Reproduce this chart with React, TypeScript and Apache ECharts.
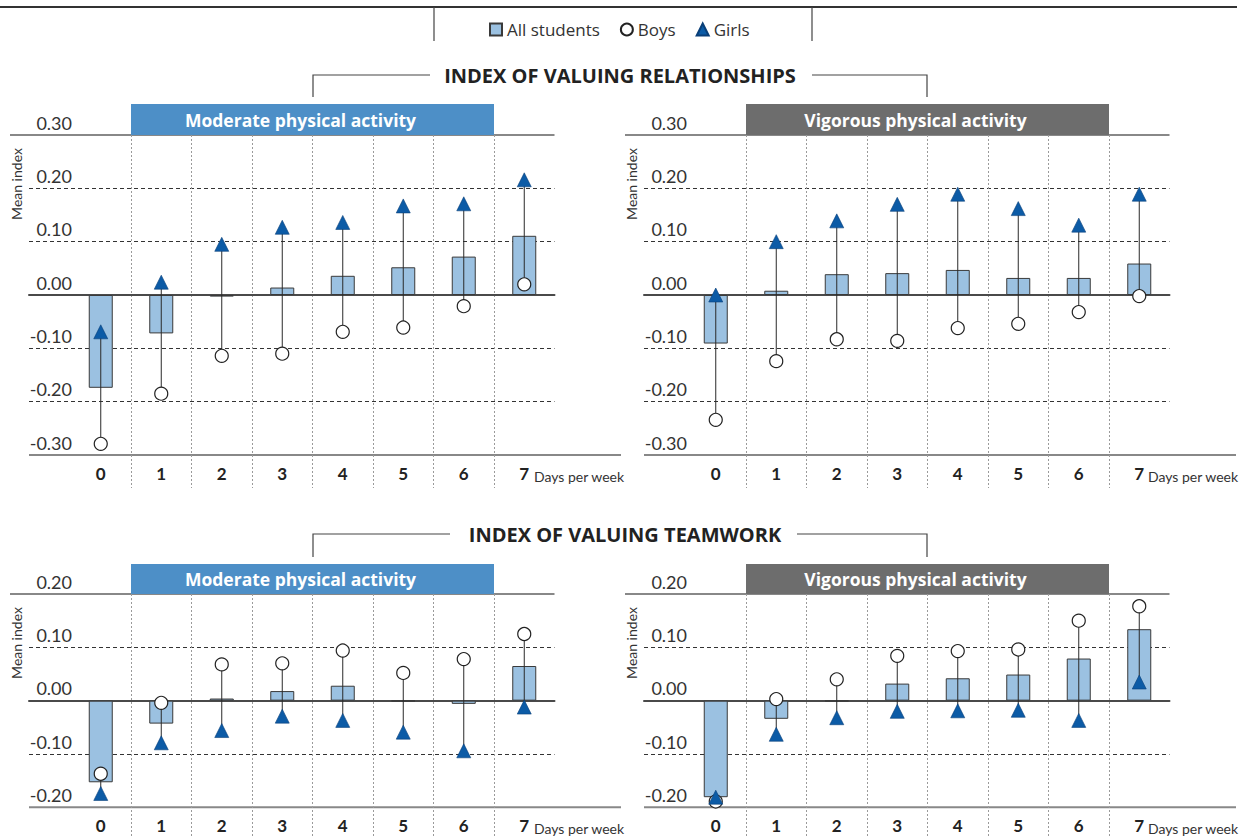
import React, { useEffect, useRef } from 'react';
import * as echarts from 'echarts';

// Days of physical activity per week
const categories = ['0', '1', '2', '3', '4', '5', '6', '7'];

// Index of valuing relationships – moderate physical activity
const relModAll = [-0.174, -0.072, -0.003, 0.014, 0.036, 0.052, 0.072, 0.111];
const relModBoys = [-0.279, -0.185, -0.114, -0.11, -0.069, -0.061, -0.021, 0.02];
const relModGirls = [-0.069, 0.024, 0.095, 0.127, 0.136, 0.167, 0.171, 0.216];

// Index of valuing relationships – vigorous physical activity
const relVigAll = [-0.091, 0.008, 0.039, 0.041, 0.047, 0.032, 0.032, 0.059];
const relVigBoys = [-0.234, -0.124, -0.083, -0.086, -0.062, -0.054, -0.032, -0.002];
const relVigGirls = [0.0, 0.1, 0.139, 0.17, 0.189, 0.162, 0.131, 0.189];

// Index of valuing teamwork – moderate physical activity
const teamModAll = [-0.153, -0.043, 0.004, 0.018, 0.028, -0.001, -0.006, 0.065];
const teamModBoys = [-0.137, -0.004, 0.068, 0.07, 0.094, 0.052, 0.078, 0.125];
const teamModGirls = [-0.174, -0.079, -0.056, -0.029, -0.037, -0.059, -0.094, -0.012];

// Index of valuing teamwork – vigorous physical activity
const teamVigAll = [-0.181, -0.034, -0.001, 0.032, 0.042, 0.049, 0.079, 0.134];
const teamVigBoys = [-0.189, 0.003, 0.04, 0.084, 0.093, 0.096, 0.15, 0.177];
const teamVigGirls = [-0.181, -0.063, -0.032, -0.02, -0.019, -0.018, -0.037, 0.035];

const FONT = 'Lato, "Open Sans", sans-serif';
const WIDE_FONT = '"Open Sans", Lato, sans-serif';
const PX_PER_UNIT = 320 / 0.6;
const BAND = 60.5;
const PLOT_LEFT = 70.5;
const GRID_LINE_LEFT = 29;
const PANEL_DX = 615;

const BAR_FILL = '#9bc1e1';
const BAR_EDGE = '#3a3a3a';
const GIRL_FILL = '#0c5ba6';
const MODERATE = '#4d8fc7';
const VIGOROUS = '#6d6d6d';

type Panel = {
  all: number[];
  boys: number[];
  girls: number[];
  dx: number;
  top: number;
  yMin: number;
  yMax: number;
  sepBottom: number;
  header: string;
  headerColor: string;
  headerTop: number;
  daysX: number;
};

const panels: Panel[] = [
  { all: relModAll, boys: relModBoys, girls: relModGirls, dx: 0, top: 135, yMin: -0.3, yMax: 0.3, sepBottom: 488, header: 'Moderate physical activity', headerColor: MODERATE, headerTop: 104, daysX: 534 },
  { all: relVigAll, boys: relVigBoys, girls: relVigGirls, dx: PANEL_DX, top: 135, yMin: -0.3, yMax: 0.3, sepBottom: 488, header: 'Vigorous physical activity', headerColor: VIGOROUS, headerTop: 104, daysX: 1148 },
  { all: teamModAll, boys: teamModBoys, girls: teamModGirls, dx: 0, top: 594, yMin: -0.2, yMax: 0.2, sepBottom: 837, header: 'Moderate physical activity', headerColor: MODERATE, headerTop: 564, daysX: 534 },
  { all: teamVigAll, boys: teamVigBoys, girls: teamVigGirls, dx: PANEL_DX, top: 594, yMin: -0.2, yMax: 0.2, sepBottom: 837, header: 'Vigorous physical activity', headerColor: VIGOROUS, headerTop: 564, daysX: 1148 },
];

const fmt = (v: number) => (Math.abs(v) < 1e-9 ? 0 : v).toFixed(2);

function text(x: number, y: number, s: string, font: string, fill: string, align = 'left', extra: any = {}) {
  return {
    type: 'text',
    x,
    y,
    silent: true,
    ...extra,
    style: { text: s, font, fill, textAlign: align, textVerticalAlign: 'middle', align, verticalAlign: 'middle' },
  };
}

function hline(x1: number, x2: number, y: number, stroke: string, lineWidth: number) {
  return { type: 'line', silent: true, shape: { x1, y1: y, x2, y2: y }, style: { stroke, lineWidth } };
}

function buildOption() {
  const grid: any[] = [];
  const xAxis: any[] = [];
  const yAxis: any[] = [];
  const series: any[] = [];
  const graphic: any[] = [];

  panels.forEach((p, k) => {
    const hA = (p.yMax - p.yMin) * PX_PER_UNIT;
    const hB = p.sepBottom - p.top;
    const plotLeft = PLOT_LEFT + p.dx;
    const plotRight = plotLeft + BAND * categories.length;
    const a = 2 * k;
    const b = 2 * k + 1;

    // Grid A: horizontal reference lines and y labels
    grid.push({ left: GRID_LINE_LEFT + p.dx, top: p.top, width: plotRight - (GRID_LINE_LEFT + p.dx), height: hA });
    xAxis.push({
      type: 'value', gridIndex: a, min: 0, max: 1,
      axisLine: { show: true, onZero: true, lineStyle: { color: '#4a4a4a', width: 2 } },
      axisTick: { show: false }, axisLabel: { show: false }, splitLine: { show: false },
    });
    yAxis.push({
      type: 'value', gridIndex: a, min: p.yMin, max: p.yMax, interval: 0.1,
      axisLine: { show: false }, axisTick: { show: false },
      axisLabel: {
        inside: true, align: 'right', margin: 43, verticalAlign: 'bottom', lineHeight: 25,
        fontFamily: FONT, fontSize: 18, color: '#333', formatter: fmt,
      },
      splitLine: { show: true, showMinLine: false, showMaxLine: false, lineStyle: { color: '#333', type: [4, 3], width: 1 } },
    });

    // Grid B: categories, separators and data marks
    grid.push({ left: plotLeft, top: p.top, width: plotRight - plotLeft, height: hB });
    xAxis.push({
      type: 'category', gridIndex: b, data: categories, boundaryGap: true, offset: -(hB - hA),
      axisLine: { show: false, onZero: false }, axisTick: { show: false },
      axisLabel: { margin: 10, fontFamily: FONT, fontWeight: 'bold', fontSize: 17, color: '#222' },
      splitLine: { show: true, showMinLine: false, showMaxLine: false, lineStyle: { color: '#9a9a9a', type: [2, 2], width: 1 } },
    });
    yAxis.push({ type: 'value', gridIndex: b, min: p.yMax - hB / PX_PER_UNIT, max: p.yMax, show: false });

    series.push({
      name: 'All students', type: 'bar', xAxisIndex: b, yAxisIndex: b, data: p.all, barWidth: 24, z: 2,
      itemStyle: { color: BAR_FILL, borderColor: BAR_EDGE, borderWidth: 1 },
    });
    series.push({
      type: 'custom', xAxisIndex: b, yAxisIndex: b, z: 3, silent: true,
      data: p.boys.map((v, i) => [i, v, p.girls[i]]),
      encode: { x: 0, y: [1, 2] },
      renderItem: (_params: any, api: any) => {
        const i = api.value(0);
        const p1 = api.coord([i, api.value(1)]);
        const p2 = api.coord([i, api.value(2)]);
        return {
          type: 'line',
          shape: { x1: p1[0], y1: p1[1], x2: p2[0], y2: p2[1] },
          style: { stroke: '#2a2a2a', lineWidth: 1 },
        };
      },
    });
    series.push({
      name: 'Boys', type: 'scatter', xAxisIndex: b, yAxisIndex: b, data: p.boys, z: 4,
      symbol: 'circle', symbolSize: 13,
      itemStyle: { color: '#ffffff', borderColor: '#222', borderWidth: 1.2, opacity: 1 },
    });
    series.push({
      name: 'Girls', type: 'scatter', xAxisIndex: b, yAxisIndex: b, data: p.girls, z: 5,
      symbol: 'triangle', symbolSize: [14, 14],
      itemStyle: { color: GIRL_FILL, borderColor: '#0a3f78', borderWidth: 0.6, opacity: 1 },
    });

    // Panel decorations
    graphic.push(hline(10 + p.dx, plotRight, p.top, '#888', 2));
    graphic.push(hline(GRID_LINE_LEFT + p.dx, 621 + p.dx, p.top + hA, '#888', 2));
    const hx1 = plotLeft + BAND;
    const hx2 = plotLeft + BAND * 7;
    graphic.push({
      type: 'rect', silent: true,
      shape: { x: hx1, y: p.headerTop, width: hx2 - hx1, height: p.top - p.headerTop },
      style: { fill: p.headerColor },
    });
    graphic.push(text((hx1 + hx2) / 2 - 12, (p.headerTop + p.top) / 2, p.header, `bold 17.5px ${WIDE_FONT}`, '#ffffff', 'center'));
    graphic.push(text(16 + p.dx, p.top + 49, 'Mean index', `14px ${FONT}`, '#333', 'center', { rotation: Math.PI / 2 }));
    graphic.push(text(p.daysX, p.top + hA + 21, 'Days per week', `14px ${FONT}`, '#333', 'left'));
  });

  // Top rule and legend frame
  graphic.push(hline(0, 1237, 7, '#333', 2));
  graphic.push({ type: 'line', silent: true, shape: { x1: 434, y1: 7, x2: 434, y2: 41 }, style: { stroke: '#444', lineWidth: 1.2 } });
  graphic.push({ type: 'line', silent: true, shape: { x1: 812, y1: 7, x2: 812, y2: 41 }, style: { stroke: '#444', lineWidth: 1.2 } });

  // Section titles with brackets
  const titles = [
    { s: 'INDEX OF VALUING RELATIONSHIPS', cx: 620, y: 75, l: 430, r: 812, down: 97 },
    { s: 'INDEX OF VALUING TEAMWORK', cx: 625, y: 534, l: 450, r: 797, down: 557 },
  ];
  titles.forEach((t) => {
    graphic.push(text(t.cx, t.y, t.s, `bold 20px ${WIDE_FONT}`, '#222', 'center'));
    graphic.push({ type: 'polyline', silent: true, shape: { points: [[313, t.down], [313, t.y], [t.l, t.y]] }, style: { stroke: '#444', lineWidth: 1.2, fill: null } });
    graphic.push({ type: 'polyline', silent: true, shape: { points: [[t.r, t.y], [927, t.y], [927, t.down]] }, style: { stroke: '#444', lineWidth: 1.2, fill: null } });
  });

  return {
    animation: false,
    backgroundColor: '#ffffff',
    legend: {
      left: 484, top: 16, itemWidth: 12, itemHeight: 12, itemGap: 20, selectedMode: false,
      textStyle: { fontFamily: WIDE_FONT, fontSize: 17, color: '#333' },
      data: [
        { name: 'All students', icon: 'rect' },
        { name: 'Boys', icon: 'circle' },
        { name: 'Girls', icon: 'triangle' },
      ],
    },
    grid, xAxis, yAxis, series, graphic,
  };
}

export default function App() {
  const ref = useRef<HTMLDivElement>(null);
  useEffect(() => {
    if (!ref.current) return;
    const chart = echarts.init(ref.current, null, { renderer: 'svg' });
    chart.setOption(buildOption() as any);
    return () => chart.dispose();
  }, []);
  return <div ref={ref} style={{ position: 'absolute', left: 0, top: 0, width: 1245, height: 837 }} />;
}
